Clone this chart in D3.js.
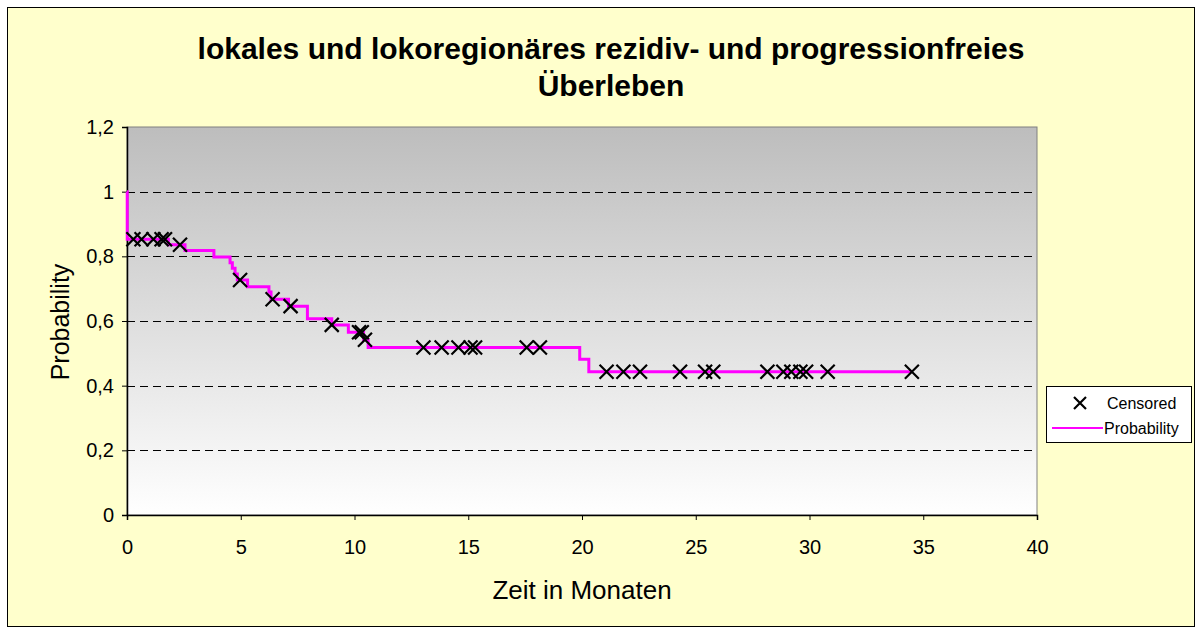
<!DOCTYPE html>
<html><head><meta charset="utf-8">
<script src="https://cdn.jsdelivr.net/npm/d3@7"></script>
<style>body{margin:0;background:#fff}svg{display:block;font-family:"Liberation Sans",Arial,sans-serif}</style>
</head><body><svg id="c" width="1202" height="633"></svg>
<script>
const titleLines = ["lokales und lokoregionäres rezidiv- und progressionfreies", "Überleben"];
const xTicks = [0,5,10,15,20,25,30,35,40];
const yTicks = [0,0.2,0.4,0.6,0.8,1,1.2];
const stepTimes = [0, 0.01, 1.82, 2.55, 3.82, 4.53, 4.63, 4.75, 4.85, 5.3, 6.24, 6.33, 7.1, 7.93, 9.0, 9.73, 10.4, 10.6, 19.9, 20.3, 34.5];
const stepProbs = [1.0, 0.853, 0.836, 0.818, 0.798, 0.780, 0.763, 0.745, 0.727, 0.706, 0.690, 0.667, 0.646, 0.607, 0.588, 0.565, 0.542, 0.518, 0.482, 0.443, 0.443];
const censTimes = [0.28,0.64,1.16,1.52,1.67,2.33,4.97,6.4,7.19,9.0,10.2,10.32,10.46,13.03,13.83,14.57,15.1,15.3,17.57,18.15,21.08,21.82,22.55,24.31,25.41,25.77,28.15,28.85,29.2,29.6,29.85,30.8,34.5];
const censProbs = [0.853,0.853,0.853,0.853,0.853,0.836,0.727,0.667,0.646,0.588,0.565,0.565,0.542,0.518,0.518,0.518,0.518,0.518,0.518,0.518,0.443,0.443,0.443,0.443,0.443,0.443,0.443,0.443,0.443,0.443,0.443,0.443,0.443];

const svg = d3.select("#c");
const L=127,R=1037,T=127,B=515;
const x = d3.scaleLinear().domain([0,40]).range([L,R]);
const y = d3.scaleLinear().domain([0,1.2]).range([B,T]);

svg.append("rect").attr("x",7.5).attr("y",7.5).attr("width",1187).attr("height",619).attr("fill","#FFFFCC").attr("stroke","#000");

const defs = svg.append("defs");
const g = defs.append("linearGradient").attr("id","bg").attr("x1",0).attr("y1",0).attr("x2",0).attr("y2",1);
g.append("stop").attr("offset","0%").attr("stop-color","#BDBDBD");
g.append("stop").attr("offset","100%").attr("stop-color","#FFFFFF");
svg.append("rect").attr("x",L).attr("y",T).attr("width",R-L).attr("height",B-T).attr("fill","url(#bg)").attr("stroke","#808080").attr("stroke-width",1);

// grid
svg.append("g").selectAll("line").data(yTicks.filter(d=>d>0 && d<1.2)).join("line")
  .attr("x1",L).attr("x2",R).attr("y1",d=>Math.round(y(d))+0.5).attr("y2",d=>Math.round(y(d))+0.5)
  .attr("stroke","#000").attr("stroke-dasharray","8,5").attr("stroke-width",1);

// axes
const fmt = d=> String(+d.toFixed(1)).replace(".",",");
const ya = svg.append("g").attr("transform",`translate(${L},0)`).call(d3.axisLeft(y).tickValues(yTicks).tickFormat(fmt).tickSize(5).tickPadding(8));
const xa = svg.append("g").attr("transform",`translate(0,${B})`).call(d3.axisBottom(x).tickValues(xTicks).tickFormat(d3.format("d")).tickSize(5).tickPadding(20));
[ya,xa].forEach(a=>{a.selectAll("text").attr("font-size",20).attr("fill","#000").attr("font-family","Liberation Sans, Arial, sans-serif");a.selectAll("line,path").attr("stroke","#000");});
ya.select(".domain").attr("stroke-width",1.5);
xa.select(".domain").attr("stroke-width",1.5);

// step line
const pts = stepTimes.map((t,i)=>[t,stepProbs[i]]);
const line = d3.line().x(d=>x(d[0])).y(d=>y(d[1])).curve(d3.curveStepAfter);
svg.append("path").attr("d",line(pts)).attr("fill","none").attr("stroke","#FF00FF").attr("stroke-width",3);

// censored
const s=7;
const cg = svg.append("g");
censTimes.forEach((t,i)=>{
  const cx=x(t), cy=y(censProbs[i]);
  cg.append("path").attr("d",`M${cx-s},${cy-s}L${cx+s},${cy+s}M${cx-s},${cy+s}L${cx+s},${cy-s}`).attr("stroke","#000").attr("stroke-width",2.2).attr("fill","none");
});

// titles
svg.append("text").attr("x",611).attr("y",59).attr("text-anchor","middle").attr("font-size",30).attr("font-weight","bold").text(titleLines[0]);
svg.append("text").attr("x",611).attr("y",96).attr("text-anchor","middle").attr("font-size",30).attr("font-weight","bold").text(titleLines[1]);
svg.append("text").attr("x",582).attr("y",599).attr("text-anchor","middle").attr("font-size",26).text("Zeit in Monaten");
svg.append("text").attr("transform","translate(69,322) rotate(-90)").attr("text-anchor","middle").attr("font-size",25).text("Probability");

// legend
const lg = svg.append("g");
lg.append("rect").attr("x",1046.5).attr("y",386.5).attr("width",145).attr("height",56).attr("fill","#fff").attr("stroke","#000");
const lx=1080, ly=403, ls=6;
lg.append("path").attr("d",`M${lx-ls},${ly-ls}L${lx+ls},${ly+ls}M${lx-ls},${ly+ls}L${lx+ls},${ly-ls}`).attr("stroke","#000").attr("stroke-width",2.2);
lg.append("text").attr("x",1107).attr("y",409).attr("font-size",16).text("Censored");
lg.append("line").attr("x1",1052).attr("x2",1103).attr("y1",428).attr("y2",428).attr("stroke","#FF00FF").attr("stroke-width",2);
lg.append("text").attr("x",1104).attr("y",434).attr("font-size",16).text("Probability");
</script></body></html>
